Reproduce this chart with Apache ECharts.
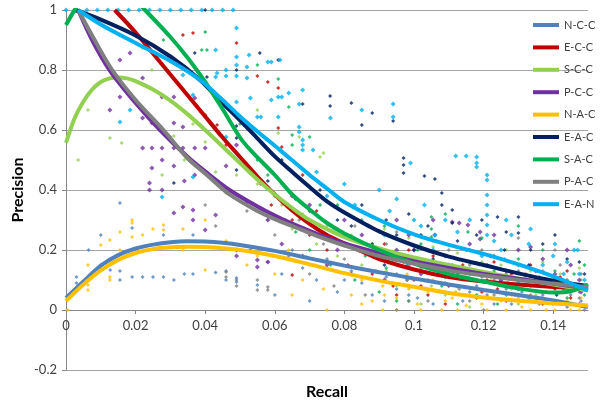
<!DOCTYPE html>
<html>
<head>
<meta charset="utf-8">
<script src="https://cdn.jsdelivr.net/npm/echarts@6/dist/echarts.min.js"></script>
<style>html,body{margin:0;padding:0;background:#fff}#c{width:600px;height:406px}</style>
</head>
<body>
<div id="c"></div>
<script>
const seriesNames = ['N-C-C','E-C-C','S-C-C','P-C-C','N-A-C','E-A-C','S-A-C','P-A-C','E-A-N'];
const xTicks = [0,0.02,0.04,0.06,0.08,0.1,0.12,0.14];
const yTicks = [-0.2,0,0.2,0.4,0.6,0.8,1];

// scatter points [recall, precision]
const ptsNCC = [[0.003,0.11],[0.003,0.09],[0.0065,0.2],[0.01,0.25],[0.01,0.15],[0.0127,0.167],[0.0127,0.133],[0.0155,0.357],[0.0155,0.13],[0.0155,0.1],[0.019,0.273],[0.019,0.11],[0.022,0.11],[0.025,0.11],[0.028,0.25],[0.028,0.11],[0.031,0.1],[0.034,0.12],[0.0365,0.25],[0.0365,0.12],[0.043,0.125],[0.046,0.13],[0.046,0.1],[0.049,0.107],[0.049,0.093],[0.055,0.083],[0.058,0.16],[0.062,0.12],[0.065,0.2],[0.068,0.14],[0.072,0.1],[0.075,0.17],[0.078,0.06],[0.082,0.13],[0.085,0.09],[0.088,0.05],[0.092,0.11],[0.095,0.07],[0.098,0.15],[0.101,0.04],[0.104,0.1],[0.108,0.06],[0.111,0.12],[0.114,0.03],[0.118,0.08],[0.121,0.05],[0.125,0.1],[0.128,0.02],[0.131,0.06],[0.135,0.04],[0.138,0.09],[0.142,0.02],[0.145,0.05],[0.148,0.03],[0.0915,0.03],[0.095,0.12],[0.0985,0.05],[0.102,0.17],[0.1055,0.02],[0.109,0.09],[0.1125,0.14],[0.116,0.06],[0.1195,0.11],[0.123,0.02],[0.1265,0.07],[0.13,0.13],[0.1335,0.03],[0.137,0.05],[0.1405,0.1],[0.144,0.01],[0.1475,0.06],[0.06,0.05],[0.07,0.03],[0.08,0.1]];
const ptsECC = [[0.0336,0.917],[0.0365,0.923],[0.049,0.89],[0.055,0.78],[0.058,0.76],[0.061,0.74],[0.04,0.65],[0.0434,0.617],[0.061,0.607],[0.062,0.543],[0.046,0.55],[0.052,0.47],[0.056,0.42],[0.059,0.35],[0.065,0.3],[0.068,0.45],[0.07,0.25],[0.072,0.33],[0.075,0.2],[0.078,0.27],[0.081,0.15],[0.084,0.23],[0.088,0.12],[0.09,0.19],[0.094,0.08],[0.097,0.16],[0.1,0.1],[0.104,0.05],[0.107,0.13],[0.11,0.08],[0.114,0.15],[0.118,0.04],[0.121,0.1],[0.124,0.07],[0.128,0.12],[0.131,0.03],[0.135,0.09],[0.138,0.06],[0.142,0.11],[0.145,0.04],[0.148,0.08],[0.065,0.117],[0.053,0.2],[0.0915,0.22],[0.095,0.05],[0.0985,0.2],[0.102,0.08],[0.1055,0.18],[0.109,0.02],[0.1125,0.12],[0.116,0.2],[0.1195,0.06],[0.123,0.16],[0.1265,0.03],[0.13,0.1],[0.1335,0.15],[0.137,0.02],[0.1405,0.07],[0.144,0.13],[0.1475,0.02]];
const ptsSCC = [[0.0035,0.5],[0.0063,0.667],[0.0126,0.573],[0.016,0.557],[0.022,0.873],[0.0247,0.8],[0.031,0.58],[0.0276,0.45],[0.034,0.5],[0.0365,0.62],[0.04,0.56],[0.043,0.46],[0.046,0.39],[0.049,0.45],[0.052,0.36],[0.055,0.42],[0.058,0.3],[0.062,0.35],[0.065,0.27],[0.068,0.32],[0.072,0.22],[0.075,0.28],[0.078,0.18],[0.082,0.25],[0.085,0.15],[0.088,0.22],[0.092,0.13],[0.095,0.19],[0.098,0.1],[0.102,0.17],[0.105,0.08],[0.108,0.14],[0.112,0.06],[0.115,0.12],[0.118,0.05],[0.122,0.1],[0.125,0.15],[0.128,0.07],[0.132,0.11],[0.135,0.05],[0.138,0.09],[0.142,0.12],[0.145,0.06],[0.148,0.1],[0.055,0.667],[0.061,0.59],[0.067,0.577],[0.073,0.51],[0.074,0.523],[0.0915,0.27],[0.095,0.08],[0.0985,0.24],[0.102,0.02],[0.1055,0.21],[0.109,0.05],[0.1125,0.19],[0.116,0.01],[0.1195,0.16],[0.123,0.04],[0.1265,0.2],[0.13,0.02],[0.1335,0.13],[0.137,0.16],[0.1405,0.03],[0.144,0.1],[0.1475,0.14]];
const ptsPCC = [[0.0155,0.833],[0.0184,0.857],[0.022,0.773],[0.0155,0.71],[0.0126,0.667],[0.0276,0.71],[0.031,0.71],[0.037,0.707],[0.022,0.64],[0.0247,0.623],[0.031,0.623],[0.0336,0.61],[0.022,0.54],[0.0247,0.54],[0.0276,0.54],[0.031,0.54],[0.0336,0.54],[0.037,0.54],[0.04,0.54],[0.0247,0.473],[0.0276,0.5],[0.031,0.48],[0.0336,0.343],[0.0365,0.333],[0.0365,0.3],[0.04,0.267],[0.043,0.317],[0.031,0.323],[0.024,0.423],[0.024,0.4],[0.0276,0.4],[0.034,0.43],[0.037,0.45],[0.046,0.48],[0.049,0.55],[0.052,0.36],[0.055,0.167],[0.055,0.143],[0.058,0.16],[0.049,0.2],[0.049,0.18],[0.058,0.3],[0.062,0.22],[0.065,0.38],[0.068,0.18],[0.072,0.27],[0.075,0.15],[0.078,0.2],[0.082,0.12],[0.085,0.25],[0.09,0.17],[0.095,0.3],[0.1,0.2],[0.106,0.25],[0.111,0.293],[0.113,0.29],[0.1155,0.283],[0.119,0.26],[0.119,0.237],[0.11,0.15],[0.122,0.18],[0.125,0.1],[0.13,0.2],[0.135,0.13],[0.14,0.08],[0.145,0.15],[0.148,0.06],[0.0915,0.1],[0.095,0.2],[0.0985,0.25],[0.102,0.12],[0.1055,0.3],[0.109,0.18],[0.1125,0.08],[0.116,0.22],[0.123,0.25],[0.1265,0.13],[0.13,0.07],[0.1335,0.21],[0.137,0.17],[0.1405,0.12],[0.144,0.2],[0.1475,0.1],[0.08,0.3],[0.07,0.35]];
const ptsNAC = [[0.0005,0.0],[0.003,0.07],[0.0063,0.15],[0.0063,0.083],[0.0063,0.067],[0.01,0.217],[0.0126,0.233],[0.0126,0.11],[0.0126,0.1],[0.0155,0.26],[0.0155,0.2],[0.019,0.3],[0.019,0.29],[0.019,0.243],[0.022,0.25],[0.025,0.27],[0.028,0.283],[0.028,0.267],[0.0336,0.27],[0.0336,0.2],[0.04,0.133],[0.04,0.3],[0.046,0.23],[0.052,0.15],[0.055,0.18],[0.06,0.12],[0.064,0.2],[0.068,0.1],[0.07,0.15],[0.074,0.07],[0.078,0.13],[0.082,0.05],[0.085,0.1],[0.088,0.03],[0.091,0.0],[0.091,0.08],[0.095,0.04],[0.098,0.12],[0.101,0.02],[0.104,0.06],[0.108,0.0],[0.111,0.04],[0.115,0.015],[0.118,0.07],[0.121,0.0],[0.125,0.03],[0.128,0.05],[0.131,0.01],[0.135,0.03],[0.138,0.0],[0.142,0.02],[0.145,0.0],[0.148,0.04],[0.0915,0.05],[0.095,0.0],[0.0985,0.07],[0.102,0.0],[0.1055,0.1],[0.109,0.03],[0.1125,0.0],[0.116,0.05],[0.1195,0.02],[0.123,0.06],[0.1265,0.0],[0.13,0.04],[0.1335,0.0],[0.137,0.06],[0.1405,0.0],[0.144,0.03],[0.1475,0.0],[0.075,0.0],[0.085,0.02],[0.065,0.05]];
const ptsEAC = [[0.04,1.0],[0.037,0.857],[0.0405,0.777],[0.049,0.8],[0.0557,0.857],[0.061,0.833],[0.049,0.613],[0.049,0.573],[0.068,0.687],[0.0759,0.713],[0.0759,0.68],[0.082,0.69],[0.085,0.617],[0.088,0.657],[0.094,0.63],[0.097,0.507],[0.097,0.483],[0.097,0.457],[0.103,0.447],[0.106,0.437],[0.108,0.39],[0.108,0.35],[0.111,0.333],[0.111,0.29],[0.124,0.31],[0.13,0.31],[0.13,0.257],[0.031,0.423],[0.058,0.43],[0.062,0.5],[0.066,0.37],[0.07,0.33],[0.073,0.4],[0.078,0.3],[0.082,0.28],[0.085,0.35],[0.088,0.22],[0.092,0.3],[0.095,0.25],[0.1,0.2],[0.104,0.28],[0.115,0.2],[0.118,0.25],[0.121,0.15],[0.126,0.2],[0.133,0.15],[0.137,0.22],[0.14,0.11],[0.144,0.17],[0.147,0.08],[0.149,0.12],[0.049,0.467],[0.0915,0.15],[0.0985,0.32],[0.102,0.25],[0.1055,0.17],[0.1125,0.23],[0.116,0.12],[0.1195,0.3],[0.123,0.18],[0.1265,0.26],[0.1335,0.2],[0.137,0.1],[0.1405,0.25],[0.144,0.08],[0.1475,0.16],[0.141,0.05]];
const ptsSAC = [[0.028,0.9],[0.04,0.927],[0.039,0.867],[0.0405,0.867],[0.055,0.817],[0.061,0.77],[0.064,0.677],[0.065,0.583],[0.065,0.55],[0.07,0.577],[0.045,0.7],[0.05,0.62],[0.055,0.5],[0.058,0.45],[0.06,0.38],[0.063,0.3],[0.066,0.26],[0.07,0.2],[0.073,0.35],[0.076,0.15],[0.08,0.22],[0.083,0.1],[0.086,0.18],[0.09,0.06],[0.092,0.14],[0.095,0.03],[0.098,0.1],[0.101,0.2],[0.105,0.31],[0.105,0.27],[0.105,0.243],[0.108,0.08],[0.111,0.15],[0.1155,0.26],[0.118,0.05],[0.121,0.12],[0.124,0.02],[0.127,0.09],[0.13,0.17],[0.133,0.04],[0.136,0.11],[0.14,0.02],[0.143,0.07],[0.146,0.12],[0.149,0.05],[0.149,0.15],[0.0915,0.28],[0.0985,0.03],[0.102,0.22],[0.109,0.32],[0.1125,0.02],[0.1195,0.24],[0.123,0.13],[0.1265,0.05],[0.13,0.28],[0.1335,0.08],[0.137,0.2],[0.1405,0.13],[0.144,0.04],[0.1475,0.23],[0.085,0.3],[0.078,0.35]];
const ptsPAC = [[0.0126,0.8],[0.03,0.577],[0.046,0.127],[0.046,0.11],[0.049,0.1],[0.049,0.08],[0.055,0.1],[0.055,0.067],[0.058,0.077],[0.058,0.067],[0.04,0.35],[0.043,0.28],[0.052,0.33],[0.06,0.25],[0.064,0.18],[0.067,0.3],[0.07,0.12],[0.074,0.22],[0.077,0.08],[0.08,0.17],[0.083,0.28],[0.086,0.05],[0.089,0.13],[0.092,0.22],[0.095,0.0],[0.098,0.1],[0.101,0.17],[0.104,0.03],[0.107,0.12],[0.11,0.2],[0.113,0.07],[0.116,0.15],[0.12,0.0],[0.123,0.1],[0.126,0.17],[0.129,0.05],[0.132,0.12],[0.136,0.02],[0.139,0.09],[0.142,0.15],[0.145,0.06],[0.148,0.12],[0.149,0.0],[0.0915,0.18],[0.095,0.26],[0.0985,0.03],[0.102,0.14],[0.1055,0.23],[0.109,0.06],[0.1125,0.17],[0.116,0.03],[0.1195,0.2],[0.123,0.05],[0.1265,0.12],[0.13,0.24],[0.1335,0.05],[0.137,0.13],[0.1405,0.2],[0.144,0.1],[0.1475,0.04]];
const ptsEAN = [[0,1],[0.003,1],[0.006,1],[0.009,1],[0.012,1],[0.015,1],[0.018,1],[0.021,1],[0.024,1],[0.027,1],[0.03,1],[0.033,1],[0.036,1],[0.039,1],[0.042,1],[0.045,1],[0.048,1],[0.049,0.94],[0.049,0.843],[0.052,0.81],[0.0526,0.85],[0.058,0.827],[0.059,0.827],[0.0615,0.833],[0.052,0.773],[0.053,0.707],[0.061,0.71],[0.062,0.71],[0.059,0.7],[0.064,0.723],[0.068,0.733],[0.067,0.687],[0.049,0.693],[0.055,0.643],[0.056,0.643],[0.061,0.643],[0.076,0.64],[0.085,0.667],[0.094,0.687],[0.094,0.643],[0.067,0.61],[0.067,0.593],[0.068,0.567],[0.068,0.55],[0.068,0.533],[0.071,0.533],[0.112,0.513],[0.115,0.513],[0.118,0.51],[0.118,0.49],[0.118,0.477],[0.099,0.49],[0.121,0.45],[0.121,0.433],[0.121,0.383],[0.121,0.35],[0.121,0.317],[0.121,0.283],[0.121,0.25],[0.0155,0.627],[0.0184,0.667],[0.0276,0.377],[0.0336,0.783],[0.0365,0.717],[0.043,0.867],[0.0434,0.79],[0.046,0.8],[0.049,0.817],[0.046,0.78],[0.049,0.78],[0.043,0.777],[0.046,0.577],[0.0365,0.443],[0.125,0.2],[0.128,0.25],[0.13,0.15],[0.133,0.22],[0.136,0.1],[0.14,0.18],[0.143,0.12],[0.146,0.2],[0.149,0.07],[0.149,0.1],[0.1,0.3],[0.103,0.35],[0.106,0.25],[0.109,0.3],[0.08,0.42],[0.083,0.35],[0.087,0.28],[0.09,0.4],[0.093,0.33],[0.072,0.46],[0.075,0.38],[0.0915,0.25],[0.095,0.37],[0.0985,0.15],[0.102,0.28],[0.1055,0.2],[0.109,0.11],[0.1125,0.26],[0.116,0.3],[0.1195,0.18],[0.123,0.23],[0.1265,0.3],[0.13,0.09],[0.1335,0.27],[0.137,0.15],[0.1405,0.22],[0.144,0.16],[0.1475,0.12],[0.147,0.2]];

// polynomial trend lines
const fitNCC = [[0,0.04],[0.005,0.095],[0.01,0.148],[0.015,0.183],[0.02,0.205],[0.025,0.218],[0.03,0.226],[0.035,0.229],[0.04,0.228],[0.045,0.224],[0.05,0.217],[0.06,0.197],[0.07,0.172],[0.08,0.148],[0.09,0.126],[0.1,0.105],[0.11,0.085],[0.12,0.067],[0.13,0.05],[0.14,0.032],[0.15,0.01]];
const fitECC = [[0.014,1.0],[0.02,0.925],[0.025,0.855],[0.03,0.785],[0.035,0.715],[0.04,0.645],[0.045,0.575],[0.05,0.51],[0.055,0.445],[0.06,0.385],[0.065,0.332],[0.07,0.287],[0.075,0.25],[0.08,0.222],[0.085,0.195],[0.09,0.17],[0.1,0.135],[0.11,0.11],[0.12,0.095],[0.13,0.085],[0.14,0.077],[0.15,0.07]];
const fitSCC = [[0,0.557],[0.0025,0.64],[0.005,0.695],[0.0075,0.735],[0.01,0.76],[0.0125,0.772],[0.015,0.775],[0.0175,0.772],[0.02,0.763],[0.025,0.735],[0.03,0.698],[0.035,0.652],[0.04,0.6],[0.045,0.545],[0.05,0.49],[0.055,0.435],[0.06,0.385],[0.065,0.34],[0.07,0.3],[0.08,0.243],[0.09,0.205],[0.1,0.175],[0.11,0.15],[0.12,0.127],[0.13,0.105],[0.14,0.085],[0.15,0.065]];
const fitPCC = [[0.0035,1.0],[0.0075,0.9],[0.0125,0.8],[0.02,0.69],[0.027,0.6],[0.035,0.51],[0.04,0.462],[0.047,0.4],[0.055,0.345],[0.06,0.315],[0.065,0.288],[0.073,0.25],[0.08,0.222],[0.09,0.19],[0.1,0.163],[0.11,0.14],[0.12,0.12],[0.13,0.104],[0.14,0.088],[0.15,0.072]];
const fitNAC = [[0,0.03],[0.005,0.085],[0.01,0.132],[0.015,0.167],[0.02,0.19],[0.025,0.203],[0.03,0.209],[0.035,0.211],[0.04,0.21],[0.045,0.206],[0.05,0.2],[0.06,0.18],[0.07,0.152],[0.08,0.123],[0.09,0.098],[0.1,0.077],[0.11,0.057],[0.12,0.042],[0.13,0.031],[0.14,0.022],[0.15,0.015]];
const fitEAC = [[0.0026,1.0],[0.01,0.968],[0.02,0.915],[0.03,0.845],[0.0385,0.767],[0.045,0.69],[0.05,0.632],[0.055,0.572],[0.06,0.512],[0.065,0.46],[0.07,0.41],[0.075,0.362],[0.08,0.325],[0.09,0.262],[0.1,0.215],[0.11,0.178],[0.12,0.15],[0.13,0.122],[0.14,0.098],[0.15,0.08]];
const fitSAC = [[0,0.95],[0.0025,1.0],[0.005,1.035],[0.01,1.065],[0.015,1.06],[0.02,1.03],[0.0227,1.0],[0.03,0.91],[0.035,0.84],[0.04,0.76],[0.045,0.67],[0.05,0.575],[0.053,0.533],[0.06,0.45],[0.065,0.385],[0.07,0.335],[0.075,0.29],[0.08,0.255],[0.09,0.2],[0.1,0.155],[0.11,0.12],[0.12,0.095],[0.13,0.072],[0.14,0.058],[0.145,0.062],[0.15,0.085]];
const fitPAC = [[0.0035,1.0],[0.0075,0.915],[0.013,0.805],[0.02,0.7],[0.028,0.6],[0.035,0.505],[0.04,0.455],[0.047,0.385],[0.055,0.33],[0.06,0.303],[0.065,0.28],[0.073,0.243],[0.08,0.215],[0.09,0.18],[0.1,0.155],[0.11,0.132],[0.12,0.115],[0.13,0.1],[0.14,0.088],[0.15,0.076]];
const fitEAN = [[0.0035,1.0],[0.01,0.952],[0.02,0.89],[0.03,0.83],[0.0385,0.767],[0.045,0.7],[0.05,0.645],[0.055,0.595],[0.0615,0.533],[0.07,0.45],[0.075,0.405],[0.08,0.36],[0.09,0.3],[0.1,0.252],[0.11,0.217],[0.12,0.187],[0.13,0.152],[0.14,0.112],[0.15,0.065]];

const points = [ptsNCC, ptsECC, ptsSCC, ptsPCC, ptsNAC, ptsEAC, ptsSAC, ptsPAC, ptsEAN];
const fits = [fitNCC, fitECC, fitSCC, fitPCC, fitNAC, fitEAC, fitSAC, fitPAC, fitEAN];
const colors = ['#4F81BD','#C00000','#92D050','#7030A0','#FFC000','#002060','#00B050','#808080','#00B0F0'];
const markerSizes = [4,4,4,5,4,4,4,4,5];

const FONT = 'Lato, "Liberation Sans", sans-serif';
const fmt = v => String(+v.toFixed(2));

const series = [];
seriesNames.forEach((n, i) => {
  series.push({
    name: n + ' data', type: 'scatter', data: points[i], symbol: 'diamond',
    symbolSize: markerSizes[i], itemStyle: { color: colors[i] }, z: 2, silent: true
  });
});
seriesNames.forEach((n, i) => {
  series.push({
    name: n, type: 'line', data: fits[i], smooth: 0.3, showSymbol: false, symbol: 'none',
    lineStyle: { color: colors[i], width: 4 }, itemStyle: { color: colors[i] }, z: 3, clip: true, silent: true
  });
});

const chart = echarts.init(document.getElementById('c'), null, { renderer: 'canvas' });
chart.setOption({
  animation: false,
  backgroundColor: '#fff',
  grid: { left: 66, right: 12, top: 10, bottom: 36, containLabel: false },
  xAxis: {
    type: 'value', min: 0, max: 0.15, interval: 0.02, offset: -60,
    axisLine: { show: true, onZero: false, lineStyle: { color: '#868686', width: 1 } },
    axisTick: { show: true, length: 4, lineStyle: { color: '#868686' } },
    axisLabel: { margin: 9, color: '#404040', fontFamily: FONT, fontSize: 13, showMaxLabel: false,
      formatter: v => xTicks.some(t => Math.abs(t - v) < 1e-9) ? fmt(v) : '' },
    splitLine: { show: false }
  },
  yAxis: {
    type: 'value', min: -0.2, max: 1, interval: 0.2,
    axisLine: { show: true, onZero: false, lineStyle: { color: '#868686', width: 1 } },
    axisTick: { show: true, length: 4, lineStyle: { color: '#868686' } },
    axisLabel: { margin: 9, color: '#404040', fontFamily: FONT, fontSize: 13,
      formatter: v => yTicks.some(t => Math.abs(t - v) < 1e-9) ? fmt(v) : '' },
    splitLine: { show: true, lineStyle: { color: '#A6A6A6', width: 1 } }
  },
  legend: {
    data: seriesNames, orient: 'vertical', left: 528, top: 14.5, itemGap: 11.4,
    itemWidth: 26, itemHeight: 4, icon: 'rect',
    textStyle: { color: '#404040', fontFamily: FONT, fontSize: 11 }, selectedMode: false
  },
  graphic: [
    { type: 'text', x: 18, y: 190, rotation: Math.PI / 2,
      style: { text: 'Precision', font: 'bold 16px ' + FONT, fill: '#000', align: 'center', verticalAlign: 'middle' } },
    { type: 'text', x: 327, y: 392,
      style: { text: 'Recall', font: 'bold 16px ' + FONT, fill: '#000', align: 'center', verticalAlign: 'middle' } }
  ],
  series: series
});
</script>
</body>
</html>
